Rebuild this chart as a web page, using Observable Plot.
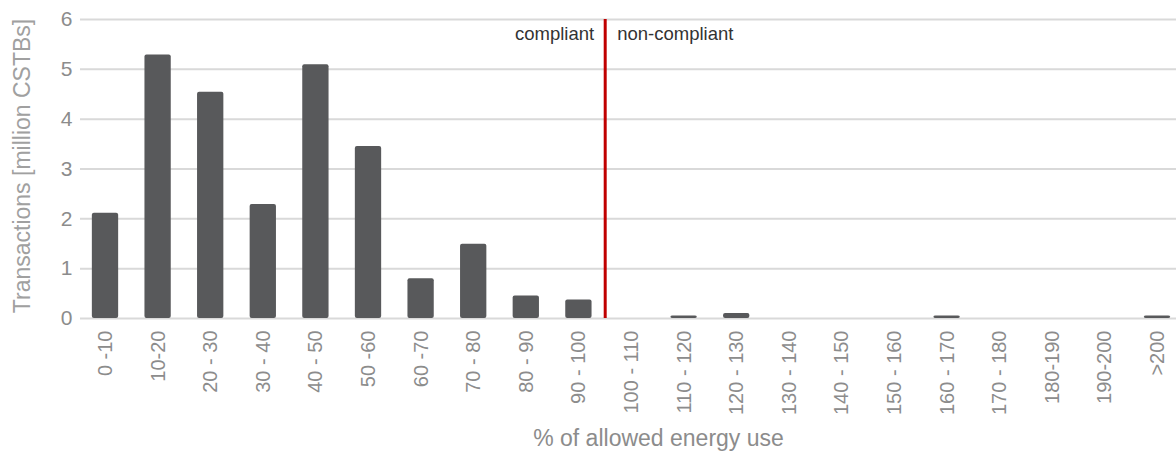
<!DOCTYPE html>
<html>
<head>
<meta charset="utf-8">
<script src="https://cdn.jsdelivr.net/npm/d3@7"></script>
<script src="https://cdn.jsdelivr.net/npm/@observablehq/plot@0.6"></script>
<style>
  html, body { margin: 0; padding: 0; background: #fff; }
</style>
</head>
<body>
<div id="chart"></div>
<script>
const categories = ["0 -10", "10-20", "20 - 30", "30 - 40", "40 - 50", "50 -60", "60 -70", "70 - 80", "80 - 90", "90 - 100",
  "100 - 110", "110 - 120", "120 - 130", "130 - 140", "140 - 150", "150 - 160", "160 - 170", "170 - 180", "180-190", "190-200", ">200"];
const values = [2.11, 5.29, 4.54, 2.29, 5.09, 3.45, 0.80, 1.49, 0.45, 0.37,
  0, 0.05, 0.10, 0, 0, 0, 0.05, 0, 0, 0, 0.05];
const yTicks = [0, 1, 2, 3, 4, 5, 6];
const thresholdAfter = "90 - 100";
const labels = { left: "compliant", right: "non-compliant" };
const yTitle = "Transactions [million CSTBs]";
const xTitle = "% of allowed energy use";

const data = categories.map((c, i) => ({ category: c, value: values[i] }));

const xRange = [78.7, 1183.3];
const step = (xRange[1] - xRange[0]) / categories.length;

const chart = Plot.plot({
  width: 1176,
  height: 459,
  marginLeft: 80,
  marginRight: 0,
  marginTop: 19,
  marginBottom: 141,
  style: { fontFamily: "'Liberation Sans', Arial, sans-serif", background: "#fff" },
  x: { domain: categories, range: xRange, paddingInner: 0.5, paddingOuter: 0.25, round: false, label: null },
  y: { domain: [0, 6], label: null },
  marks: [
    Plot.gridY(yTicks, { stroke: "#d9d9d9", strokeOpacity: 1, strokeWidth: 2 }),
    Plot.barY(data, { x: "category", y: "value", fill: "#58595b", rx: 2 }),
    Plot.ruleX([thresholdAfter], { y1: 0, y2: 6, dx: step / 2, stroke: "#c00000", strokeWidth: 3 }),
    Plot.text([labels.left], { x: () => thresholdAfter, y: () => 5.7, dx: step / 2 - 11, textAnchor: "end", fontSize: 18.5, fill: "#333" }),
    Plot.text([labels.right], { x: () => thresholdAfter, y: () => 5.7, dx: step / 2 + 12, textAnchor: "start", fontSize: 18.5, fill: "#333" }),
    Plot.axisY(yTicks, { tickSize: 0, tickPadding: 8, fontSize: 21, color: "#8c8c8c", tickFormat: "d", label: null }),
    Plot.axisX({ tickSize: 0, tickPadding: 12, tickRotate: -90, fontSize: 20, color: "#8c8c8c", label: null }),
    Plot.text([yTitle], { frameAnchor: "left", textAnchor: "middle", rotate: -90, dx: -58, dy: -3, fontSize: 23, fill: "#a0a0a0" }),
    Plot.text([xTitle], { frameAnchor: "bottom", dx: 30, dy: 127, fontSize: 23, fill: "#8c8c8c" })
  ]
});
document.getElementById("chart").appendChild(chart);
</script>
</body>
</html>
